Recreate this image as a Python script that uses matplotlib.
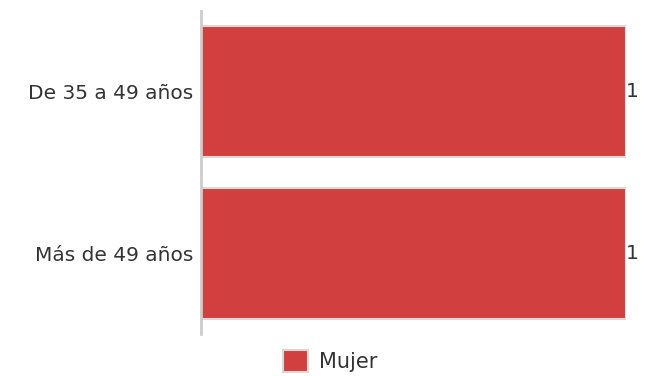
import matplotlib
matplotlib.use("Agg")
import matplotlib.pyplot as plt
from matplotlib.patches import Patch

categories = ["De 35 a 49 años", "Más de 49 años"]
values = [1, 1]
series_name = "Mujer"

plt.rcParams['font.family'] = ['DejaVu Sans']

fig = plt.figure(figsize=(6.45, 3.76), dpi=100)
ax = fig.add_axes([201/645, 1-334/376, (626-201)/645, (334-11)/376])

color = "#d13f3f"
ypos = list(range(len(categories)))
ax.barh(ypos, values, height=0.81, color=color, edgecolor="#d9d9d9", linewidth=1.5)
ax.set_ylim(len(categories)-0.5, -0.5)
ax.set_xlim(0, 1)
ax.set_yticks(ypos)
ax.set_yticklabels(categories, fontsize=14.5, color="#333333")
ax.tick_params(axis='y', length=0, pad=5.5)
ax.set_xticks([])
for s in ["top", "right", "bottom"]:
    ax.spines[s].set_visible(False)
ax.spines["left"].set_color("#cccccc")
ax.spines["left"].set_linewidth(2)

for y, v in zip(ypos, values):
    ax.text(v, y, f"{v}", ha="left", va="center", fontsize=14.5, color="#333333", clip_on=False)

handles = [Patch(facecolor=color, edgecolor="#d9d9d9", linewidth=1.5, label=series_name)]
fig.legend(handles=handles, loc="center", bbox_to_anchor=(330/645, 1-361/376), frameon=False,
           fontsize=15, handlelength=1.2, handleheight=1.2, handletextpad=0.5, labelcolor="#333333")

fig.savefig("out.png", dpi=100)
